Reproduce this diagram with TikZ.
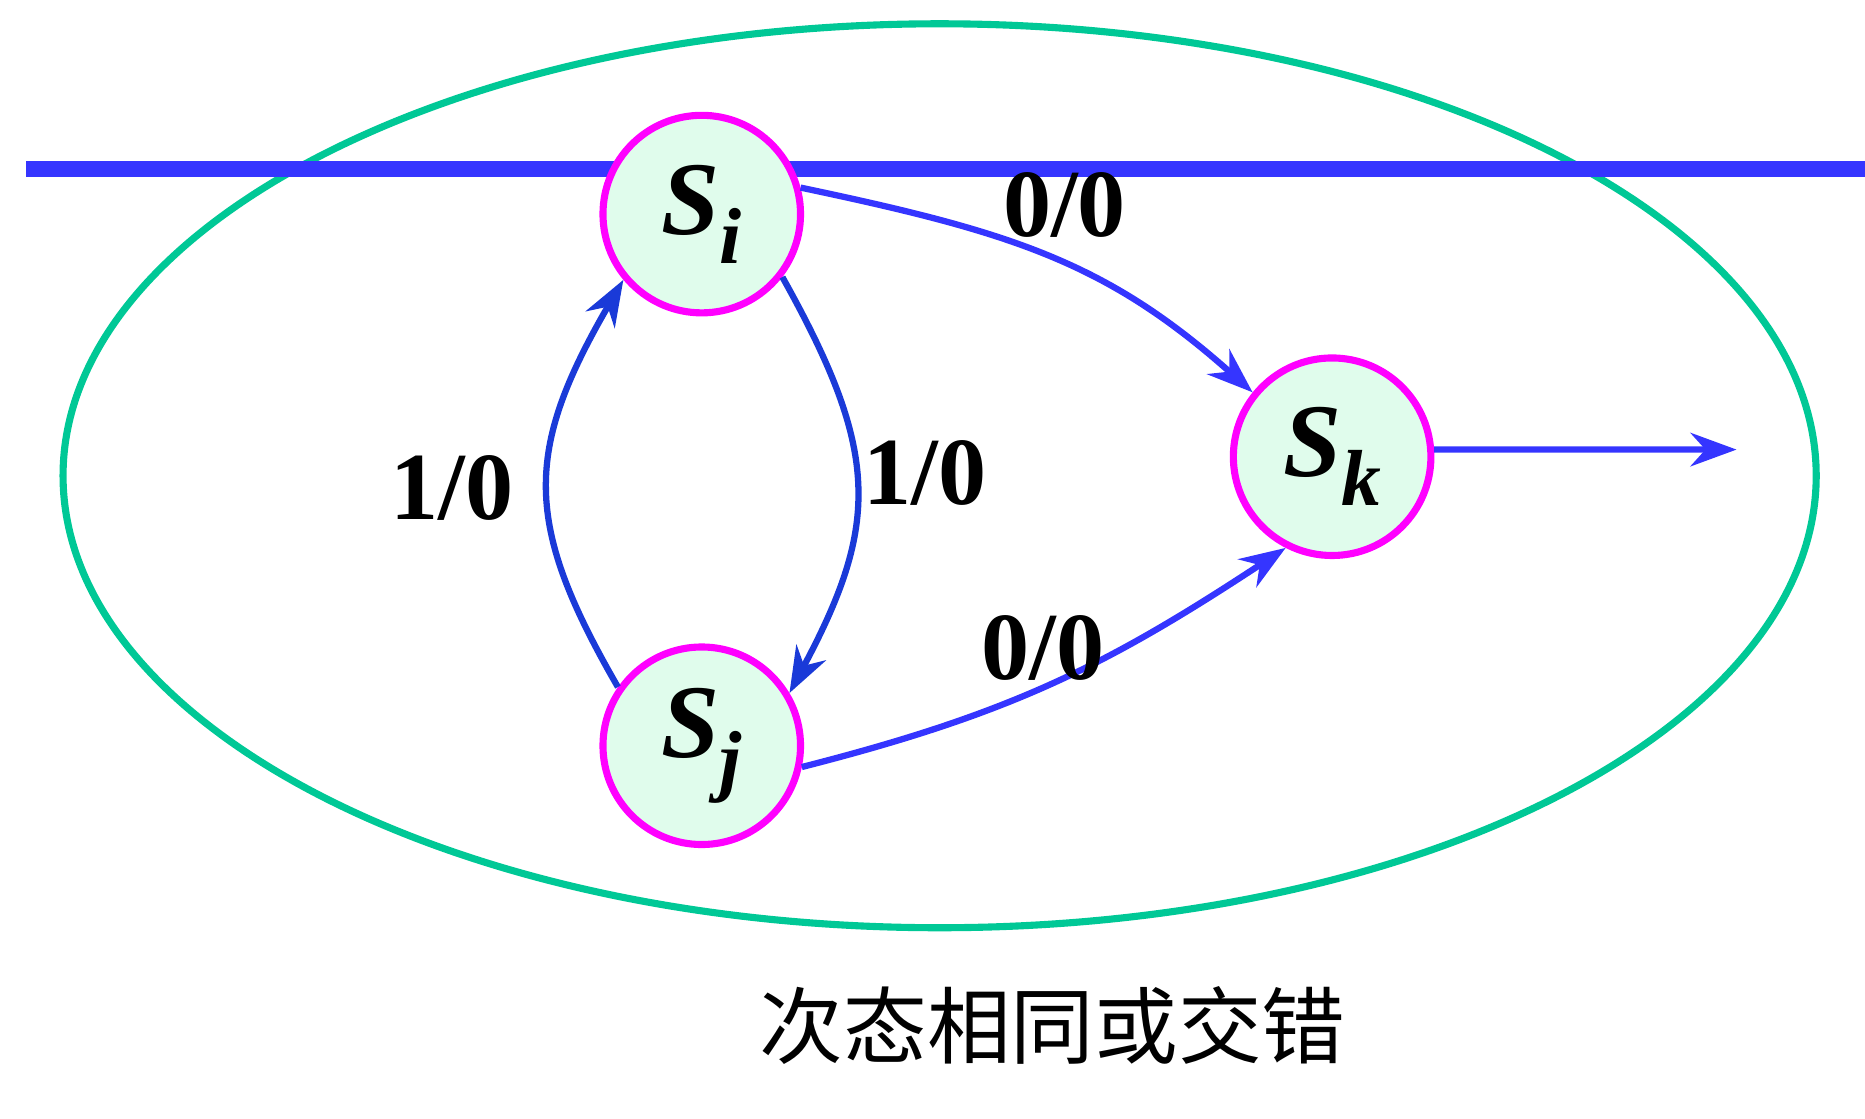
\documentclass[tikz,border=0pt]{standalone}
\usepackage{fontspec}
\setmainfont{Liberation Serif}
\newfontfamily\cjk{Noto Sans CJK SC}
\usetikzlibrary{arrows.meta}
\definecolor{ringgreen}{HTML}{00C896}
\definecolor{barblue}{HTML}{3535FF}
\definecolor{edgeblue}{HTML}{1A3AD8}
\definecolor{statefill}{HTML}{E0FCEC}
\definecolor{ringmagenta}{HTML}{FF00FF}
\tikzset{
  state/.style={circle, draw=ringmagenta, line width=1.7pt, fill=statefill, minimum size=1.66cm, inner sep=0pt, font=\fontsize{25}{27}\selectfont\bfseries\itshape},
  trans/.style={line width=1.5pt, -{Stealth[length=11pt,width=8pt]}},
  lbl/.style={font=\fontsize{23}{25}\selectfont\bfseries}
}
\begin{document}
\begin{tikzpicture}[x=0.01cm, y=-0.01cm]
    \useasboundingbox (0,0) rectangle (1568,940);

    % Frame and bar
    \draw[ringgreen, line width=1.7pt] (790,400) ellipse [x radius=737, y radius=380];
    \draw[barblue, line width=4pt] (22,142) -- (1568,142);

    % States
    \node[state] (si) at (590,180) {S\raisebox{-0.6ex}{\fontsize{19}{20}\selectfont i}};
    \node[state] (sj) at (590,627) {S\raisebox{-0.6ex}{\fontsize{19}{20}\selectfont j}};
    \node[state] (sk) at (1120,384) {S\raisebox{-0.6ex}{\fontsize{19}{20}\selectfont k}};
    \coordinate (out) at (1460,378);

    % Transitions
    \draw[trans, barblue] (si.15) .. controls (850,195) and (930,220) .. (sk.141);
    \draw[trans, barblue] (sj.-12) .. controls (850,600) and (930,560) .. (sk.-117);
    \draw[trans, edgeblue] (si.-38) .. controls (740,380) and (740,440) .. (sj.31);
    \draw[trans, edgeblue] (sj.145) .. controls (440,440) and (440,380) .. (si.-140);
    \draw[trans, barblue] (sk.4) -- (out);

    % Labels
    \node[lbl] (l1) at (895,172) {0/0};
    \node[lbl] (l2) at (778,398) {1/0};
    \node[lbl] (l3) at (380,410) {1/0};
    \node[lbl] (l4) at (877,545) {0/0};
    \node[font=\fontsize{20}{22}\selectfont\cjk] (cap) at (885,862) {次态相同或交错};
\end{tikzpicture}
\end{document}
